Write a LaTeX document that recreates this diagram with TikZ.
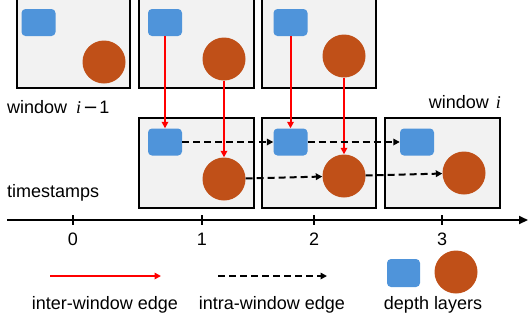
\documentclass[tikz,border=0pt]{standalone}
\usepackage{fontspec}
\setmainfont{Liberation Sans}
\newfontfamily\serifitfont{Liberation Serif}
\newfontfamily\dvfont{DejaVu Sans}
\usetikzlibrary{arrows.meta}
\definecolor{boxfill}{HTML}{F2F2F2}
\definecolor{sqblue}{HTML}{4F94DA}
\definecolor{circor}{HTML}{C05018}
\begin{document}
\begin{tikzpicture}[x=1bp,y=-1bp,
  txt/.style={font=\fontsize{18bp}{21bp}\selectfont, inner sep=0pt},
  winbox/.style={draw=black, fill=boxfill, line width=1.5bp},
  sq/.style={fill=sqblue, rounded corners=4bp, minimum width=34bp, minimum height=27bp, inner sep=0pt, draw=none},
  cir/.style={circle, fill=circor, minimum size=43bp, inner sep=0pt, draw=none},
  inter/.style={draw=red, line width=2bp, -{Triangle[length=6.5bp,width=6.5bp]}},
  intra/.style={draw=black, line width=2bp, dash pattern=on 7bp off 4bp, -{Triangle[length=6.5bp,width=6.5bp]}},
  tick/.style={line width=2bp}
]
\useasboundingbox (0,0) rectangle (528,323);
% window i-1 boxes
\draw[winbox] (17,-4) rectangle (130,88);
\draw[winbox] (139,-4) rectangle (254,88);
\draw[winbox] (262,-4) rectangle (376,88);
% window i boxes
\draw[winbox] (139,118) rectangle (254,208);
\draw[winbox] (262,118) rectangle (376,208);
\draw[winbox] (385,118) rectangle (500,208);
% top layers
\node[sq] (sA) at (38.5,22.5) {};
\node[cir] (cA) at (104,62) {};
\node[sq] (sB) at (165,22.5) {};
\node[cir] (cB) at (224,59) {};
\node[sq] (sC) at (290.5,22.5) {};
\node[cir] (cC) at (344,56) {};
% bottom layers
\node[sq] (sD) at (165,142) {};
\node[cir] (cD) at (224,179) {};
\node[sq] (sE) at (290.5,142) {};
\node[cir] (cE) at (344,176) {};
\node[sq] (sF) at (417,142) {};
\node[cir] (cF) at (464,173) {};
% labels
\node[txt, anchor=west] (lw1) at (7,107) {window\hspace{9bp}{\serifitfont\itshape i}\hspace{2bp}{\dvfont −}\hspace{1bp}1};
\node[txt, anchor=east] (lw2) at (501,102) {window\hspace{7bp}{\serifitfont\itshape i}};
\node[txt, anchor=west] (lts) at (7,193) {timestamps};
% inter-window edges
\draw[inter] (sB) -- (sD);
\draw[inter] (cB) -- (cD);
\draw[inter] (sC) -- (sE);
\draw[inter] (cC) -- (cE);
% intra-window edges
\draw[intra] (sD) -- (sE);
\draw[intra] (sE) -- (sF);
\draw[intra] (cD) -- (cE);
\draw[intra] (cE) -- (cF);
% axis
\coordinate (ax0) at (7,220);
\coordinate (ax1) at (528,220);
\draw[line width=2bp, -{Triangle[length=9bp,width=8bp]}] (ax0) -- (ax1);
\foreach \x/\l in {73/0,202/1,314/2,442/3}{
  \draw[tick] (\x,215) -- (\x,225);
  \node[txt] (t\l) at (\x,239) {\l};
}
% legend
\coordinate (la0) at (50,276);
\coordinate (la1) at (161,276);
\draw[inter] (la0) -- (la1);
\node[txt] (lint) at (105,305) {inter-window edge};
\coordinate (lb0) at (218,276);
\coordinate (lb1) at (327,276);
\draw[intra] (lb0) -- (lb1);
\node[txt] (lintra) at (272,305) {intra-window edge};
\node[sq, minimum width=33bp, minimum height=28bp] (lsq) at (403.5,273) {};
\node[cir] (lcir) at (456,272) {};
\node[txt] (ldl) at (433,305) {depth layers};
\end{tikzpicture}
\end{document}
